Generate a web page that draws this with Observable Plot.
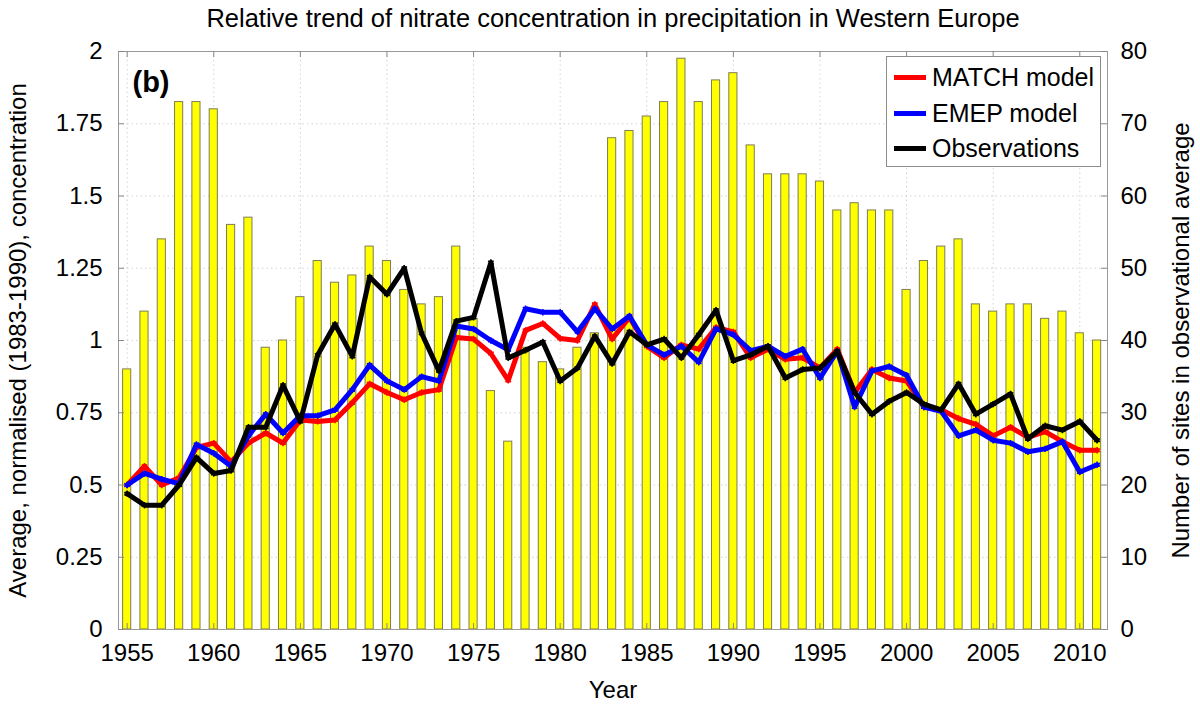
<!DOCTYPE html>
<html>
<head>
<meta charset="utf-8">
<script src="https://cdn.jsdelivr.net/npm/d3@7"></script>
<script src="https://cdn.jsdelivr.net/npm/@observablehq/plot@0.6"></script>
<style>
  html, body { margin: 0; padding: 0; background: #fff; }
  #wrap { position: relative; width: 1200px; height: 706px; font-family: "Liberation Sans", Arial, sans-serif; }
  #legend { position: absolute; left: 886px; top: 56px; width: 213px; height: 109px; border: 1px solid #8c8c8c; background: #fff; }
  .row { position: absolute; left: 0; height: 35px; display: flex; align-items: center; font-size: 25px; color: #000; }
  .sw { display: inline-block; width: 32px; height: 5px; margin-left: 7px; margin-right: 6px; }
</style>
</head>
<body>
<div id="wrap"></div>
<script>
const years = d3.range(1955, 2012);
const sites = [36,44,54,73,73,72,56,57,39,40,46,51,48,49,53,51,47,45,46,53,43,33,26,39,37,36,39,41,68,69,71,73,79,73,76,77,67,63,63,63,62,58,59,58,58,47,51,53,54,45,44,45,45,43,44,41,40];
const matchModel = [0.50,0.565,0.50,0.525,0.63,0.645,0.58,0.645,0.68,0.645,0.725,0.72,0.725,0.785,0.85,0.82,0.795,0.82,0.83,1.01,1.005,0.955,0.862,1.035,1.059,1.007,1.0,1.125,1.005,1.08,0.98,0.94,0.985,0.97,1.045,1.03,0.94,0.97,0.935,0.94,0.905,0.97,0.82,0.90,0.87,0.86,0.77,0.76,0.73,0.71,0.67,0.70,0.665,0.685,0.65,0.62,0.62];
const emepModel = [0.50,0.54,0.52,0.505,0.64,0.61,0.565,0.67,0.745,0.68,0.74,0.74,0.76,0.83,0.915,0.86,0.83,0.875,0.86,1.05,1.04,1.0,0.968,1.11,1.098,1.098,1.03,1.11,1.04,1.085,0.985,0.95,0.98,0.925,1.04,1.02,0.965,0.98,0.945,0.97,0.87,0.963,0.77,0.895,0.91,0.88,0.77,0.755,0.67,0.69,0.655,0.645,0.615,0.625,0.65,0.545,0.57];
const observations = [0.47,0.43,0.43,0.50,0.595,0.54,0.55,0.70,0.70,0.845,0.72,0.95,1.056,0.945,1.22,1.16,1.25,1.025,0.895,1.067,1.08,1.27,0.94,0.966,0.995,0.86,0.905,1.015,0.92,1.03,0.985,1.005,0.94,1.02,1.105,0.93,0.95,0.98,0.87,0.90,0.905,0.963,0.82,0.745,0.79,0.82,0.78,0.76,0.85,0.745,0.78,0.815,0.66,0.705,0.69,0.72,0.655];
const xTicks = [1955,1960,1965,1970,1975,1980,1985,1990,1995,2000,2005,2010];
const yTicks = [0,0.25,0.5,0.75,1,1.25,1.5,1.75,2];
const sitesMax = 80;
const yMax = 2;

const titleText = "Relative trend of nitrate concentration in precipitation in Western Europe";
const yLabelLeft = "Average, normalised (1983-1990), concentration";
const yLabelRight = "Number of sites in observational average";
const xLabel = "Year";
const panelLabel = "(b)";
const seriesNames = ["MATCH model", "EMEP model", "Observations"];
const seriesColors = ["#ff0000", "#0000ff", "#000000"];

const data = years.map((year, i) => ({
  year, sites: sites[i], match: matchModel[i], emep: emepModel[i], obs: observations[i]
}));
const toLeft = s => s * yMax / sitesMax;

const W = 1200, H = 706, mL = 118, mR = 93, mT = 51, mB = 77;
const fw = W - mL - mR, fh = H - mT - mB;
const tl = 6;

const seriesMarks = [["match", 0], ["emep", 1], ["obs", 2]].flatMap(([key, i]) => [
  Plot.line(data, { x: "year", y: key, stroke: seriesColors[i], strokeWidth: 5, strokeLinejoin: "round" }),
  Plot.dot(data, { x: "year", y: key, symbol: "asterisk", r: 3, stroke: seriesColors[i], strokeWidth: 1.5 })
]);

const chart = Plot.plot({
  width: W, height: H,
  marginLeft: mL, marginRight: mR, marginTop: mT, marginBottom: mB,
  style: { fontFamily: "'Liberation Sans', Arial, sans-serif", fontSize: "24px", background: "#fff", color: "#000", overflow: "visible" },
  x: { domain: [1954.5, 2011.6] },
  y: { domain: [0, yMax] },
  marks: [
    Plot.gridX({ ticks: xTicks, stroke: "#c8c8c8", strokeOpacity: 1, strokeDasharray: "1.5,3", strokeWidth: 0.8 }),
    Plot.gridY({ ticks: yTicks, stroke: "#c8c8c8", strokeOpacity: 1, strokeDasharray: "1.5,3", strokeWidth: 0.8 }),
    Plot.rectY(data, { x1: d => d.year - 0.235, x2: d => d.year + 0.235, y1: 0, y2: d => toLeft(d.sites), fill: "#ffff00", stroke: "#7d7d55", strokeWidth: 1 }),
    ...seriesMarks,
    Plot.frame({ stroke: "#999" }),
    Plot.tickX(xTicks, { x: d => d, insetTop: fh - tl, stroke: "#888" }),
    Plot.tickX(xTicks, { x: d => d, insetBottom: fh - tl, stroke: "#888" }),
    Plot.tickY(yTicks, { y: d => d, insetRight: fw - tl, stroke: "#888" }),
    Plot.tickY(yTicks, { y: d => d, insetLeft: fw - tl, stroke: "#888" }),
    Plot.axisX({ ticks: xTicks, tickSize: 0, tickPadding: 14, tickFormat: d => String(d), label: null, fontSize: 24 }),
    Plot.axisY({ ticks: yTicks, tickSize: 0, tickPadding: 16, tickFormat: d => String(d), label: null, fontSize: 24 }),
    Plot.axisY({ anchor: "right", ticks: yTicks, tickSize: 0, tickPadding: 13, tickFormat: d => String(Math.round(d * sitesMax / yMax)), label: null, fontSize: 24 }),
    Plot.text([titleText], { frameAnchor: "top", dy: -33, fontSize: 25.5, textAnchor: "middle", lineAnchor: "middle" }),
    Plot.text([xLabel], { frameAnchor: "bottom", dy: 61, fontSize: 24, textAnchor: "middle", lineAnchor: "middle" }),
    Plot.text([yLabelLeft], { frameAnchor: "left", dx: -100, rotate: -90, fontSize: 24, textAnchor: "middle", lineAnchor: "middle" }),
    Plot.text([yLabelRight], { frameAnchor: "right", dx: 74, rotate: -90, fontSize: 24, textAnchor: "middle", lineAnchor: "middle" }),
    Plot.text([panelLabel], { frameAnchor: "top-left", dx: 14, dy: 31, fontSize: 29, fontWeight: "bold", textAnchor: "start", lineAnchor: "middle" })
  ]
});

const wrap = document.getElementById("wrap");
wrap.appendChild(chart);

const legend = document.createElement("div");
legend.id = "legend";
seriesNames.forEach((name, i) => {
  const row = document.createElement("div");
  row.className = "row";
  row.style.top = (3 + i * 35.5) + "px";
  const sw = document.createElement("span");
  sw.className = "sw";
  sw.style.background = seriesColors[i];
  const label = document.createElement("span");
  label.textContent = name;
  row.appendChild(sw);
  row.appendChild(label);
  legend.appendChild(row);
});
wrap.appendChild(legend);
</script>
</body>
</html>
